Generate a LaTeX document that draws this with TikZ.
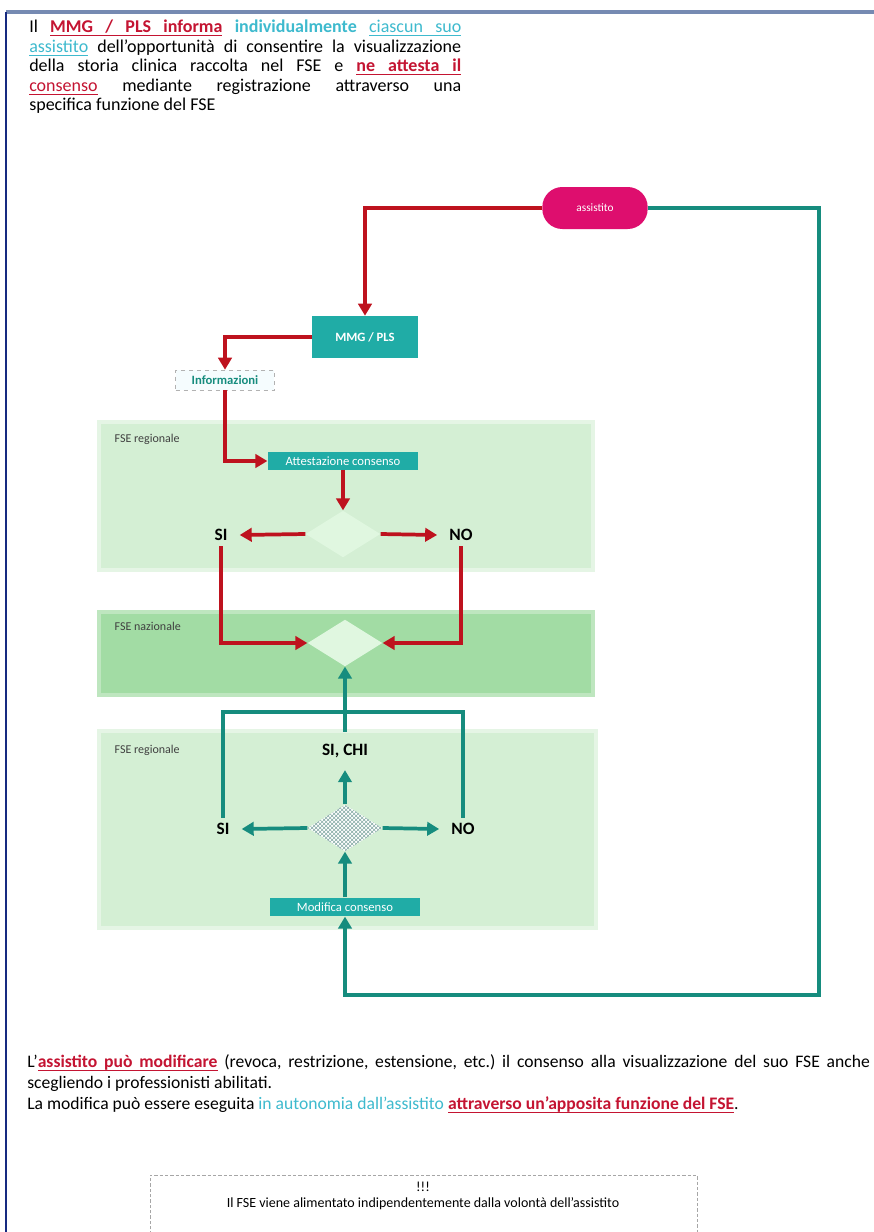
\documentclass[tikz,border=0pt]{standalone}
\usepackage{fontspec}
\setmainfont{Carlito}
\usepackage{tikz}
\usetikzlibrary{arrows.meta}
\usetikzlibrary{shapes.geometric}
\usetikzlibrary{patterns}
\definecolor{lineRed}{RGB}{190,18,30}
\definecolor{lineTeal}{RGB}{22,140,126}
\definecolor{boxTeal}{RGB}{32,172,166}
\definecolor{pillMag}{RGB}{222,14,110}
\definecolor{txtRed}{RGB}{196,20,50}
\definecolor{txtCyan}{RGB}{62,186,206}
\definecolor{bandLight}{RGB}{212,239,212}
\definecolor{bandDark}{RGB}{162,220,164}
\definecolor{diaFill}{RGB}{224,247,224}
\definecolor{frameTop}{RGB}{118,138,178}
\definecolor{frameLeft}{RGB}{22,42,128}
\newlength{\uwlen}
\newcommand{\uw}[1]{\settowidth{\uwlen}{#1}\rlap{#1}\rule[-2.6pt]{\uwlen}{0.7pt}}
\newcommand{\us}{\leaders\hrule height -1.9pt depth 2.6pt\hskip 0.22em plus 1fil\relax}
\newcommand{\rosso}[1]{\textcolor{txtRed}{#1}}
\newcommand{\ciano}[1]{\textcolor{txtCyan}{#1}}
\newcommand{\riga}[2]{\makebox[#1][s]{\frenchspacing\spaceskip=0.22em plus 1fil\relax #2}}
\tikzset{redarr/.style = {draw=lineRed, line width=2.8pt, -{Triangle[length=9pt,width=10pt]}}}
\tikzset{tealarr/.style = {draw=lineTeal, line width=2.8pt, -{Triangle[length=9pt,width=10pt]}}}
\tikzset{tealline/.style = {draw=lineTeal, line width=2.8pt}}
\tikzset{tealbox/.style = {fill=boxTeal, text=white, inner sep=0, font=\fontsize{9.5pt}{11pt}\selectfont}}
\tikzset{dia/.style = {diamond, fill=diaFill, minimum width=56pt, minimum height=35pt, inner sep=0}}
\tikzset{answer/.style = {font=\fontsize{13pt}{15pt}\selectfont\bfseries, inner xsep=9pt, inner ysep=4pt}}
\tikzset{bandlabel/.style = {anchor=west, text=black!75, font=\fontsize{9pt}{10pt}\selectfont}}

\begin{document}
\begin{tikzpicture}[x=0.75pt,y=-0.75pt]
  \useasboundingbox (0,0) rectangle (874,1232);
  \fill[white] (0,0) rectangle (874,1232);
  % cornice
  \draw[frameTop, line width=2.4pt] (6,12) -- (874,12);
  \draw[frameLeft, line width=2pt] (6,12) -- (6,1232);

  % testo introduttivo
  \node[anchor=north west, inner sep=0, align=left, font=\fontsize{13.5pt}{14.6pt}\selectfont] (intro) at (29,20) {%
    \riga{324pt}{Il \rosso{\bfseries\uw{MMG}\us\uw{/}\us\uw{PLS}\us\uw{informa}} \ciano{\textbf{individualmente}} \ciano{\uw{ciascun}\us\uw{suo}}}\\
    \riga{324pt}{\ciano{\uw{assistito}} dell'opportunità di consentire la visualizzazione}\\
    \riga{324pt}{della storia clinica raccolta nel FSE e \rosso{\bfseries\uw{ne}\us\uw{attesta}\us\uw{il}}}\\
    \riga{324pt}{\rosso{\uw{consenso}} mediante registrazione attraverso una}\\
    specifica funzione del FSE};

  % fasce
  \fill[bandLight, draw=bandLight!60!white, line width=3pt] (99,422) rectangle (593,570);
  \fill[bandDark, draw=bandDark!70!white, line width=3pt] (99,612) rectangle (593,695);
  \fill[bandLight, draw=bandLight!60!white, line width=3pt] (99,731) rectangle (596,928);
  \node[bandlabel] (fse1) at (110,439) {FSE regionale};
  \node[bandlabel] (fse2) at (110,626) {FSE nazionale};
  \node[bandlabel] (fse3) at (110,750) {FSE regionale};

  % nodi
  \node[fill=pillMag, text=white, rounded corners=15pt, minimum width=79pt, minimum height=31.5pt, font=\fontsize{8.5pt}{10pt}\selectfont] (assistito) at (595,208) {assistito};
  \node[tealbox, minimum width=79pt, minimum height=31.5pt, font=\fontsize{9.5pt}{11pt}\selectfont\bfseries] (mmg) at (365,337) {MMG / PLS};
  \node[draw=gray!60, dashed, fill=cyan!4, text=lineTeal, inner sep=0, minimum width=74pt, minimum height=15pt, font=\fontsize{9.5pt}{11pt}\selectfont\bfseries] (info) at (225,380) {Informazioni};
  \node[tealbox, minimum width=113pt, minimum height=13pt] (attest) at (343,461) {Attestazione consenso};
  \node[dia] (d1) at (343,534) {};
  \node[answer] (si1) at (221,535) {SI};
  \node[answer] (no1) at (461,535) {NO};
  \node[dia] (d2) at (345,643) {};
  \node[answer, inner ysep=9pt] (sichi) at (345,751) {SI, CHI};
  \node[dia, preaction={fill=white}, pattern=crosshatch, pattern color=lineTeal!45!gray!70] (d3) at (345,828) {};
  \node[answer] (si2) at (223,829) {SI};
  \node[answer] (no2) at (463,829) {NO};
  \node[tealbox, minimum width=112pt, minimum height=14pt] (mod) at (345,907) {Modifica consenso};
  \coordinate (giunto) at (345,712);
  \coordinate (ritorno) at (819,995);

  % percorso del MMG
  \draw[redarr] (assistito.west) -| (mmg.north);
  \draw[redarr] (mmg.west) -| (info.north);
  \draw[redarr] (info.south) |- (attest.west);
  \draw[redarr] (attest.south) -- (d1.north);
  \draw[redarr] (d1.west) -- (si1.east);
  \draw[redarr] (d1.east) -- (no1.west);
  \draw[redarr] (si1.south) |- (d2.west);
  \draw[redarr] (no1.south) |- (d2.east);

  % percorso dell'assistito
  \draw[tealarr] (assistito.east) -| (ritorno) -| (mod.south);
  \draw[tealarr] (mod.north) -- (d3.south);
  \draw[tealarr] (d3.north) -- (sichi.south);
  \draw[tealarr] (d3.west) -- (si2.east);
  \draw[tealarr] (d3.east) -- (no2.west);
  \draw[tealline] (si2.north) |- (giunto) -| (no2.north);
  \draw[tealarr] (sichi.north) -- (d2.south);

  % testo finale
  \node[anchor=north west, inner sep=0, align=left, font=\fontsize{13.2pt}{15.8pt}\selectfont] (nota) at (27,1054) {%
    \riga{632pt}{L'\rosso{\bfseries\uw{assistito}\us\uw{può}\us\uw{modificare}} (revoca, restrizione, estensione, etc.) il consenso alla visualizzazione del suo FSE anche}\\
    scegliendo i professionisti abilitati.\\
    La modifica può essere eseguita \ciano{in autonomia dall'assistito} \rosso{\bfseries\uw{attraverso un'apposita funzione del FSE}}.};

  \draw[gray!70, dash pattern=on 2.5pt off 1.5pt, line width=0.6pt] (150,1240) |- (697,1175) -- (697,1240);
  \node[align=center, font=\fontsize{10.5pt}{12pt}\selectfont] (avviso) at (423,1196) {!!!\\Il FSE viene alimentato indipendentemente dalla volontà dell'assistito};
\end{tikzpicture}
\end{document}
